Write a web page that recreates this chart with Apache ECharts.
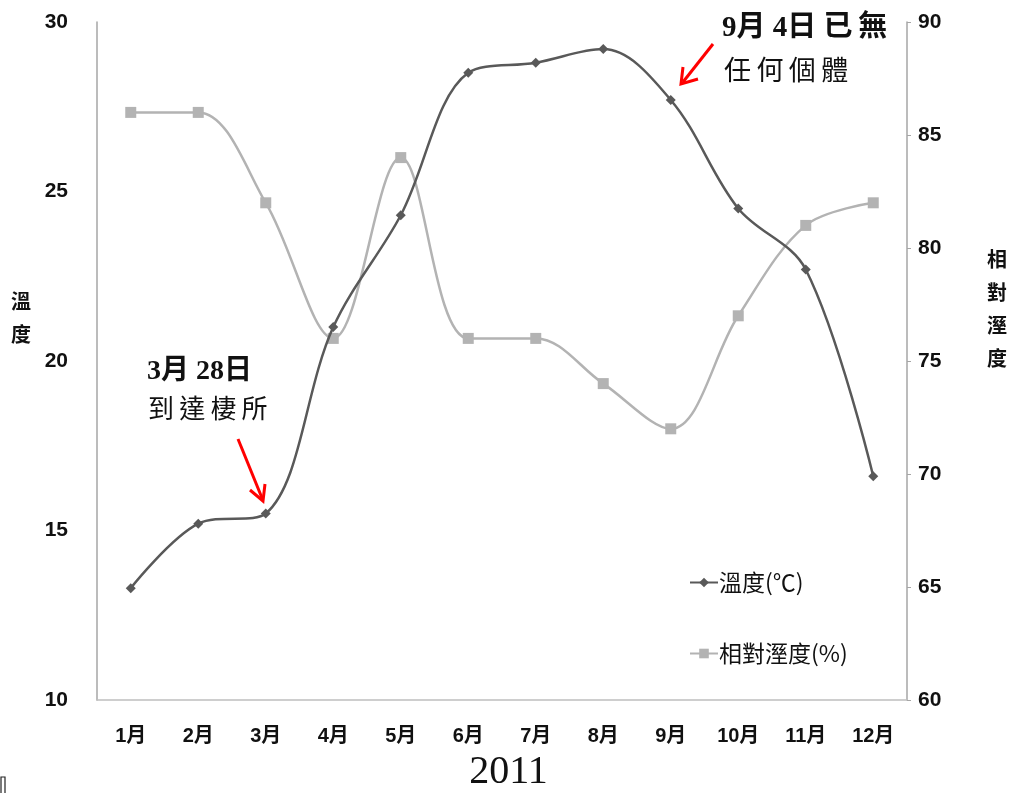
<!DOCTYPE html>
<html>
<head>
<meta charset="utf-8">
<script src="https://cdn.jsdelivr.net/npm/echarts@6/dist/echarts.min.js"></script>
<style>
  html, body { margin: 0; padding: 0; background: #fff; }
  #chart { width: 1017px; height: 793px; }
</style>
</head>
<body>
<div id="chart"></div>
<script>
// Monthly temperature and relative humidity, 2011
const months = ['1月', '2月', '3月', '4月', '5月', '6月', '7月', '8月', '9月', '10月', '11月', '12月'];
const temperature = [13.3, 15.2, 15.5, 21.0, 24.3, 28.5, 28.8, 29.2, 27.7, 24.5, 22.7, 16.6];
const humidity = [86, 86, 82, 76, 84, 76, 76, 74, 72, 77, 81, 82];
const tempName = '溫度(℃)';
const humName = '相對溼度(%)';
const yearLabel = '2011';
const noteArrival = ['3月 28日', '到\u2009達\u2009棲\u2009所'];
const noteGone = ['9月 4日 已\u2009無', '任\u2009何\u2009個\u2009體'];

const cjkFont = '"Noto Sans CJK TC", "Noto Sans CJK SC", sans-serif';
const tickFont = '"Liberation Sans", "Noto Sans CJK TC", sans-serif';

const chart = echarts.init(document.getElementById('chart'));

chart.setOption({
  backgroundColor: '#ffffff',
  animation: false,
  grid: { left: 97, right: 110, top: 22, bottom: 93, containLabel: false },
  legend: {
    orient: 'vertical',
    left: 684,
    top: 566,
    itemGap: 48,
    itemWidth: 28,
    itemHeight: 12,
    textStyle: { fontFamily: cjkFont, fontSize: 23, color: '#111', padding: [0, 0, 0, -4] },
    data: [tempName, humName]
  },
  xAxis: {
    type: 'category',
    data: months,
    boundaryGap: true,
    axisLine: { lineStyle: { color: '#bfbfbf', width: 1.5 } },
    axisTick: { show: false },
    axisLabel: { fontFamily: tickFont, fontSize: 20, fontWeight: 'bold', color: '#111', margin: 26 },
    splitLine: { show: false }
  },
  yAxis: [
    {
      type: 'value', min: 10, max: 30, interval: 5,
      axisLine: { show: true, lineStyle: { color: '#a6a6a6', width: 1.5 } },
      axisTick: { show: false },
      axisLabel: { fontFamily: tickFont, fontSize: 21, fontWeight: 'bold', color: '#111', margin: 29 },
      splitLine: { show: false }
    },
    {
      type: 'value', min: 60, max: 90, interval: 5, position: 'right',
      axisLine: { show: true, lineStyle: { color: '#a6a6a6', width: 1.5 } },
      axisTick: { show: true, inside: false, length: 4, lineStyle: { color: '#a6a6a6' } },
      axisLabel: { fontFamily: tickFont, fontSize: 21, fontWeight: 'bold', color: '#111', margin: 11 },
      splitLine: { show: false }
    }
  ],
  series: [
    {
      name: tempName,
      type: 'line',
      yAxisIndex: 0,
      data: temperature,
      smooth: 0.35,
      symbol: 'diamond',
      symbolSize: 10,
      itemStyle: { color: '#595959' },
      lineStyle: { color: '#595959', width: 2.5 },
      z: 3
    },
    {
      name: humName,
      type: 'line',
      yAxisIndex: 1,
      data: humidity,
      smooth: 0.35,
      symbol: 'rect',
      symbolSize: 11,
      itemStyle: { color: '#b3b3b3' },
      lineStyle: { color: '#b3b3b3', width: 2.5 },
      z: 2
    }
  ],
  graphic: [
    // axis titles, stacked vertically
    { type: 'text', left: 11, top: 285, style: { text: '溫\n度', font: 'bold 20px ' + cjkFont, lineHeight: 33, fill: '#111' } },
    { type: 'text', left: 987, top: 243, style: { text: '相\n對\n溼\n度', font: 'bold 20px ' + cjkFont, lineHeight: 33, fill: '#111' } },
    // year under the month labels
    { type: 'text', left: 'center', top: 752, style: { text: yearLabel, font: '40px "Liberation Serif", serif', fill: '#111', x: -4 } },
    // annotation: arrival
    { type: 'text', left: 147, top: 358, style: { text: noteArrival[0], font: 'bold 28px "Liberation Serif", ' + cjkFont, fill: '#111' } },
    { type: 'text', left: 148, top: 395, style: { text: noteArrival[1], font: '26px ' + cjkFont, fill: '#111' } },
    { type: 'line', shape: { x1: 238, y1: 439, x2: 262, y2: 498 }, style: { stroke: '#ff0000', lineWidth: 3 } },
    { type: 'polyline', shape: { points: [[250, 490], [263, 501], [265, 484]] }, style: { stroke: '#ff0000', lineWidth: 3, fill: null } },
    // annotation: none left
    { type: 'text', left: 722, top: 14, style: { text: noteGone[0], font: 'bold 29px "Liberation Serif", ' + cjkFont, fill: '#111' } },
    { type: 'text', left: 724, top: 56, style: { text: noteGone[1], font: '27px ' + cjkFont, fill: '#111' } },
    { type: 'line', shape: { x1: 713, y1: 44, x2: 683, y2: 82 }, style: { stroke: '#ff0000', lineWidth: 3 } },
    { type: 'polyline', shape: { points: [[683, 67], [681, 84], [698, 79]] }, style: { stroke: '#ff0000', lineWidth: 3, fill: null } },
    // small bracket in the lower-left corner
    { type: 'polyline', shape: { points: [[1, 793], [1, 777], [5, 777], [5, 793]] }, style: { stroke: '#222', lineWidth: 1.2, fill: null } }
  ]
});
</script>
</body>
</html>
